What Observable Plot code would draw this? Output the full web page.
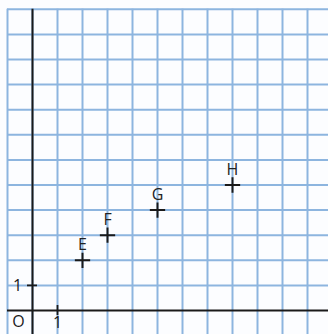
<!DOCTYPE html>
<html>
<head>
<meta charset="utf-8">
<script src="https://cdn.jsdelivr.net/npm/d3@7"></script>
<script src="https://cdn.jsdelivr.net/npm/@observablehq/plot@0.6"></script>
<style>
  html, body { margin: 0; padding: 0; background: #fcfdff; }
  #chart svg { display: block; }
</style>
</head>
<body>
<div id="chart"></div>
<script>
// Named points on the grid
const pointNames = ["E", "F", "G", "H"];
const pointX = [2, 3, 5, 8];
const pointY = [2, 3, 4, 5];

// Grid lines (one unit apart) and unit tick labels
const gridX = [-1, 0, 1, 2, 3, 4, 5, 6, 7, 8, 9, 10, 11];
const gridY = [1, 2, 3, 4, 5, 6, 7, 8, 9, 10, 11, 12];
const unitTick = [1];

const points = pointNames.map((name, i) => ({name, x: pointX[i], y: pointY[i]}));

const gridColor = "#8db5df";
const inkColor = "#1a1a1a";

const chart = Plot.plot({
  width: 328,
  height: 334,
  margin: 0,
  style: {background: "#fcfdff", fontFamily: "'Open Sans', sans-serif"},
  x: {domain: [-1.28, 11.84], axis: null},
  y: {domain: [-0.956, 12.35], axis: null},
  marks: [
    // light blue squared paper
    Plot.ruleX(gridX, {y1: -0.956, y2: 12, stroke: gridColor, strokeWidth: 2}),
    Plot.ruleY(gridY, {x1: -1, x2: 11.84, stroke: gridColor, strokeWidth: 2}),
    // axes
    Plot.ruleX([0], {y1: -0.956, y2: 12, stroke: inkColor, strokeWidth: 2}),
    Plot.ruleY([0], {x1: -1, x2: 11.84, stroke: inkColor, strokeWidth: 2}),
    // unit ticks
    Plot.ruleY(unitTick, {x1: -0.2, x2: 0.2, stroke: inkColor, strokeWidth: 1.8}),
    Plot.ruleX(unitTick, {y1: -0.2, y2: 0.2, stroke: inkColor, strokeWidth: 1.8}),
    // tick labels and origin
    Plot.text(unitTick, {x: 0, y: d => d, text: d => String(d), dx: -15, fontSize: 16, fill: inkColor}),
    Plot.text(unitTick, {x: d => d, y: 0, text: d => String(d), dy: 12, fontSize: 16, fill: inkColor}),
    Plot.text(["O"], {x: 0, y: 0, text: d => d, dx: -14, dy: 11, fontSize: 16, fill: inkColor}),
    // points
    Plot.dot(points, {x: "x", y: "y", symbol: "plus", r: 5, stroke: inkColor, strokeWidth: 2}),
    Plot.text(points, {x: "x", y: "y", text: "name", dy: -15, fontSize: 16, fill: "#222"})
  ]
});

document.getElementById("chart").append(chart);
</script>
</body>
</html>
